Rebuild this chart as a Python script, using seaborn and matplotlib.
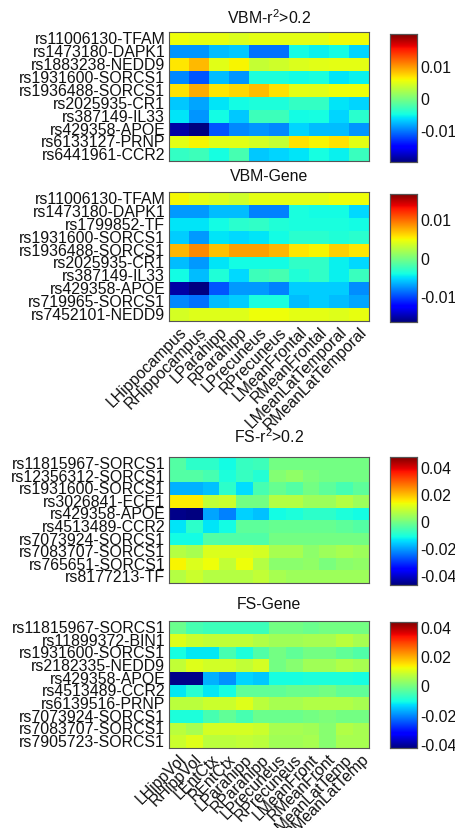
import numpy as np
import pandas as pd
import matplotlib
matplotlib.use("Agg")
import matplotlib.pyplot as plt
import seaborn as sns

sns.set_style("white")
plt.rcParams['font.family'] = ['Liberation Sans', 'DejaVu Sans']
plt.rcParams['mathtext.fontset'] = 'custom'
plt.rcParams['mathtext.rm'] = 'Liberation Sans'
plt.rcParams['mathtext.it'] = 'Liberation Sans'

FS_TXT = 11.4

# ---------------- data ----------------
vbm_cols = ["LHippocampus", "RHippocampus", "LParahipp", "RParahipp", "LPrecuneus",
            "RPrecuneus", "LMeanFrontal", "RMeanFrontal", "LMeanLatTemporal", "RMeanLatTemporal"]
fs_cols = ["LHippVol", "RHippVol", "LEntCtx", "REntCtx", "LParahipp", "RParahipp",
           "LPrecuneus", "RPrecuneus", "LMeanFront", "RMeanFront", "LMeanLatTemp", "RMeanLatTemp"]

vbm_r2_rows = ["rs11006130-TFAM", "rs1473180-DAPK1", "rs1883238-NEDD9", "rs1931600-SORCS1",
               "rs1936488-SORCS1", "rs2025935-CR1", "rs387149-IL33", "rs429358-APOE",
               "rs6133127-PRNP", "rs6441961-CCR2"]
vbm_r2_vals = [
    [0.0055, 0.0052, 0.0052, 0.0045, 0.0050, 0.0050, 0.0050, 0.0050, 0.0057, 0.0057],
    [-0.0090, -0.0090, -0.0075, -0.0070, -0.0105, -0.0105, -0.0050, -0.0055, -0.0050, -0.0065],
    [0.0065, 0.0085, 0.0048, 0.0060, 0.0035, 0.0040, 0.0045, 0.0048, 0.0050, 0.0050],
    [-0.0095, -0.0115, -0.0075, -0.0090, -0.0045, -0.0045, -0.0050, -0.0047, -0.0060, -0.0055],
    [0.0068, 0.0090, 0.0065, 0.0072, 0.0082, 0.0068, 0.0050, 0.0048, 0.0055, 0.0055],
    [-0.0070, -0.0085, -0.0060, -0.0050, -0.0045, -0.0045, -0.0035, -0.0035, -0.0060, -0.0065],
    [-0.0060, -0.0090, -0.0050, -0.0070, -0.0030, -0.0030, -0.0050, -0.0048, -0.0065, -0.0040],
    [-0.0185, -0.0198, -0.0115, -0.0095, -0.0090, -0.0095, -0.0065, -0.0075, -0.0075, -0.0090],
    [0.0050, 0.0060, 0.0048, 0.0048, 0.0043, 0.0035, 0.0068, 0.0060, 0.0068, 0.0050],
    [-0.0035, -0.0030, -0.0048, -0.0025, -0.0070, -0.0065, -0.0060, -0.0048, -0.0055, -0.0032],
]

vbm_gene_rows = ["rs11006130-TFAM", "rs1473180-DAPK1", "rs1799852-TF", "rs1931600-SORCS1",
                 "rs1936488-SORCS1", "rs2025935-CR1", "rs387149-IL33", "rs429358-APOE",
                 "rs719965-SORCS1", "rs7452101-NEDD9"]
vbm_gene_vals = [
    [0.0048, 0.0042, 0.0038, 0.0033, 0.0042, 0.0042, 0.0042, 0.0042, 0.0046, 0.0046],
    [-0.0075, -0.0075, -0.0063, -0.0063, -0.0083, -0.0083, -0.0039, -0.0042, -0.0042, -0.0054],
    [-0.0050, -0.0050, -0.0042, -0.0033, -0.0030, -0.0037, -0.0039, -0.0039, -0.0039, -0.0042],
    [-0.0058, -0.0075, -0.0050, -0.0054, -0.0050, -0.0042, -0.0033, -0.0033, -0.0037, -0.0033],
    [0.0072, 0.0088, 0.0068, 0.0080, 0.0080, 0.0072, 0.0055, 0.0050, 0.0063, 0.0055],
    [-0.0063, -0.0075, -0.0050, -0.0042, -0.0042, -0.0042, -0.0030, -0.0030, -0.0046, -0.0054],
    [-0.0042, -0.0063, -0.0037, -0.0054, -0.0025, -0.0021, -0.0037, -0.0030, -0.0046, -0.0027],
    [-0.0155, -0.0165, -0.0096, -0.0075, -0.0075, -0.0083, -0.0058, -0.0058, -0.0058, -0.0079],
    [-0.0080, -0.0087, -0.0063, -0.0058, -0.0039, -0.0039, -0.0063, -0.0058, -0.0063, -0.0071],
    [0.0036, 0.0040, 0.0040, 0.0040, 0.0046, 0.0046, 0.0042, 0.0042, 0.0040, 0.0044],
]

fs_r2_rows = ["rs11815967-SORCS1", "rs12356312-SORCS1", "rs1931600-SORCS1", "rs3026841-ECE1",
              "rs429358-APOE", "rs4513489-CCR2", "rs7073924-SORCS1", "rs7083707-SORCS1",
              "rs765651-SORCS1", "rs8177213-TF"]
fs_r2_vals = [
    [-0.0047, -0.0090, -0.0090, -0.0118, -0.0080, -0.0070, -0.0010, -0.0010, -0.0010, -0.0010, -0.0010, -0.0010],
    [-0.0047, -0.0047, -0.0060, -0.0110, -0.0080, -0.0100, 0.0010, 0.0025, 0.0000, -0.0010, -0.0010, -0.0010],
    [-0.0188, -0.0188, -0.0175, -0.0090, -0.0150, -0.0060, -0.0025, -0.0047, -0.0010, -0.0035, -0.0060, -0.0035],
    [0.0150, 0.0150, 0.0080, 0.0090, -0.0010, -0.0010, 0.0065, 0.0065, 0.0040, 0.0040, 0.0065, 0.0040],
    [-0.0460, -0.0470, -0.0200, -0.0235, -0.0160, -0.0175, -0.0118, -0.0110, -0.0090, -0.0090, -0.0110, -0.0118],
    [-0.0140, -0.0090, -0.0140, -0.0118, -0.0035, -0.0035, -0.0025, -0.0025, -0.0025, -0.0025, -0.0035, -0.0047],
    [-0.0118, -0.0118, -0.0047, -0.0050, -0.0050, -0.0050, -0.0010, -0.0010, -0.0010, -0.0010, -0.0010, -0.0010],
    [0.0065, 0.0050, 0.0110, 0.0110, 0.0110, 0.0100, 0.0050, 0.0050, 0.0020, 0.0040, 0.0050, 0.0040],
    [0.0140, 0.0110, 0.0130, 0.0080, 0.0130, 0.0065, 0.0015, 0.0015, 0.0025, -0.0003, 0.0015, 0.0025],
    [0.0065, 0.0090, 0.0065, 0.0065, 0.0065, 0.0080, 0.0050, 0.0040, 0.0040, 0.0040, 0.0040, 0.0040],
]

fs_gene_rows = ["rs11815967-SORCS1", "rs11899372-BIN1", "rs1931600-SORCS1", "rs2182335-NEDD9",
                "rs429358-APOE", "rs4513489-CCR2", "rs6139516-PRNP", "rs7073924-SORCS1",
                "rs7083707-SORCS1", "rs7905723-SORCS1"]
fs_gene_vals = [
    [-0.0020, -0.0055, -0.0065, -0.0065, -0.0065, -0.0065, -0.0010, -0.0010, -0.0020, -0.0010, -0.0010, -0.0010],
    [0.0101, 0.0082, 0.0073, 0.0073, 0.0073, 0.0056, 0.0039, 0.0039, 0.0047, 0.0047, 0.0065, 0.0047],
    [-0.0107, -0.0125, -0.0125, -0.0055, -0.0099, -0.0047, -0.0010, -0.0030, -0.0010, -0.0010, -0.0030, -0.0047],
    [0.0073, 0.0101, 0.0088, 0.0088, 0.0073, 0.0092, -0.0010, 0.0013, 0.0039, 0.0039, 0.0056, 0.0047],
    [-0.0420, -0.0420, -0.0172, -0.0200, -0.0142, -0.0152, -0.0107, -0.0107, -0.0099, -0.0099, -0.0099, -0.0107],
    [-0.0125, -0.0090, -0.0125, -0.0107, -0.0030, -0.0030, -0.0030, -0.0020, -0.0020, -0.0010, -0.0030, -0.0030],
    [0.0065, 0.0065, 0.0082, 0.0082, 0.0101, 0.0065, 0.0047, 0.0047, 0.0056, 0.0056, 0.0056, 0.0047],
    [-0.0099, -0.0099, -0.0055, -0.0030, -0.0055, -0.0020, -0.0020, -0.0020, -0.0010, 0.0000, -0.0010, -0.0010],
    [0.0065, 0.0047, 0.0092, 0.0092, 0.0092, 0.0082, 0.0047, 0.0047, 0.0039, 0.0013, 0.0056, 0.0047],
    [0.0082, 0.0101, 0.0065, 0.0065, 0.0073, 0.0065, 0.0039, 0.0039, 0.0047, 0.0013, 0.0047, 0.0047],
]

titles = ["VBM-r$^2$>0.2", "VBM-Gene", "FS-r$^2$>0.2", "FS-Gene"]
clims = [0.0198, 0.0166, 0.047, 0.043]
cticks = [[-0.01, 0, 0.01], [-0.01, 0, 0.01],
          [-0.04, -0.02, 0, 0.02, 0.04], [-0.04, -0.02, 0, 0.02, 0.04]]
cticklabels = [["-0.01", "0", "0.01"], ["-0.01", "0", "0.01"],
               ["-0.04", "-0.02", "0", "0.02", "0.04"], ["-0.04", "-0.02", "0", "0.02", "0.04"]]

# ---------------- layout (pixels) ----------------
W, H = 456, 829
fig = plt.figure(figsize=(W / 100, H / 100), dpi=100)

def rect(x0, y0, x1, y1):
    return [x0 / W, 1 - y1 / H, (x1 - x0) / W, (y1 - y0) / H]

hm_y = [(33.3, 162.3), (193.3, 321.7), (458.3, 584.0), (622.3, 749.0)]
cb_y = [(35.0, 163.0), (195.0, 322.7), (458.3, 585.7), (623.3, 749.3)]
title_y = [17.3, 176.7, 436.7, 605.0]
hx0, hx1 = 169.3, 369.3
cx0, cx1 = 390.0, 417.3

panels = [
    (vbm_r2_rows, vbm_r2_vals, vbm_cols, False),
    (vbm_gene_rows, vbm_gene_vals, vbm_cols, True),
    (fs_r2_rows, fs_r2_vals, fs_cols, False),
    (fs_gene_rows, fs_gene_vals, fs_cols, True),
]

spine_col = "#555555"
for i, (rows, vals, cols, show_x) in enumerate(panels):
    ax = fig.add_axes(rect(hx0, hm_y[i][0], hx1, hm_y[i][1]))
    cax = fig.add_axes(rect(cx0, cb_y[i][0], cx1, cb_y[i][1]))
    df = pd.DataFrame(vals, index=rows, columns=cols)
    sns.heatmap(df, ax=ax, cmap="jet", vmin=-clims[i], vmax=clims[i],
                cbar_ax=cax, linewidths=0, xticklabels=True, yticklabels=True)
    for s in ax.spines.values():
        s.set_visible(True)
        s.set_color(spine_col)
        s.set_linewidth(0.8)
    ax.tick_params(axis='y', which='both', direction='in', length=3, width=0.8,
                   left=True, right=True, color=spine_col, pad=3, labelsize=FS_TXT)
    ax.tick_params(axis='x', which='both', direction='in', length=3, width=0.8,
                   bottom=True, top=False, color=spine_col, pad=2, labelsize=FS_TXT)
    ax.set_yticklabels(rows, rotation=0, fontsize=FS_TXT, color="#111111")
    if show_x:
        ax.set_xticklabels(cols, rotation=45, ha='right', va='top',
                           rotation_mode='anchor', fontsize=FS_TXT, color="#111111")
    else:
        ax.set_xticklabels([])
    ax.set_xlabel("")
    ax.set_ylabel("")
    fig.text((hx0 + hx1) / 2 / W, 1 - title_y[i] / H, titles[i], ha='center', va='center',
             fontsize=FS_TXT, color="#111111")

    cax.set_yticks(cticks[i])
    cax.set_yticklabels(cticklabels[i], fontsize=FS_TXT, color="#111111")
    cax.tick_params(axis='y', direction='in', length=3, width=0.8, left=True, right=True,
                    color=spine_col, pad=2)
    for s in cax.spines.values():
        s.set_visible(True)
        s.set_color(spine_col)
        s.set_linewidth(0.8)

fig.savefig("out.png", dpi=100, facecolor="white")
